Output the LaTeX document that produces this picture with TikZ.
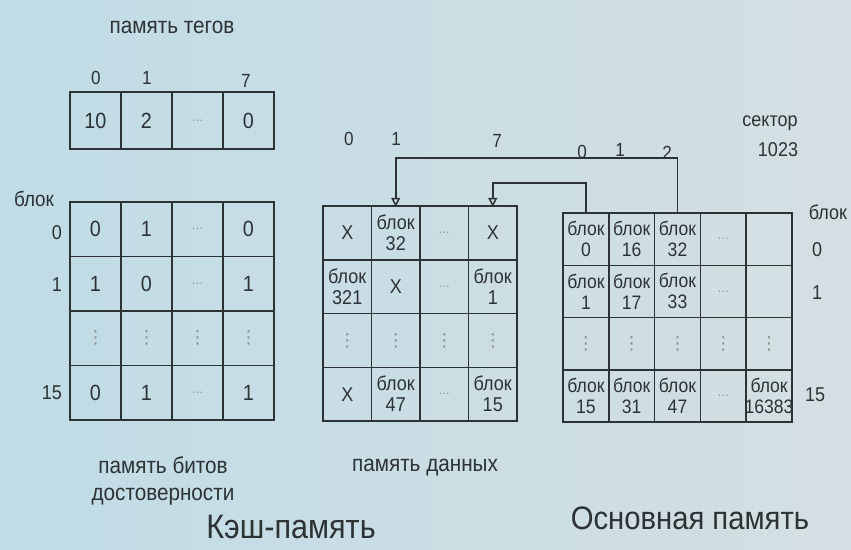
\documentclass[tikz,border=0pt]{standalone}
\usepackage{fontspec}
\setmainfont{Liberation Sans}[FakeStretch=0.9]
\newfontfamily\symbfont{DejaVu Sans}
\usetikzlibrary{arrows.meta}

\definecolor{bgleft}{RGB}{192,220,230}
\definecolor{bgright}{RGB}{212,223,227}
\definecolor{ink}{RGB}{45,50,52}

\newcommand{\celldots}{{\color{ink!55}\fontsize{13}{13}\selectfont\ldots}}
\newcommand{\vdts}{{\color{ink!55}\symbfont\fontsize{18}{18}\selectfont ⋮}}

\begin{document}
\begin{tikzpicture}[x=1pt, y=-1pt,
		gridline/.style = {draw=ink, line width=1.5pt},
		cell/.style  = {rectangle, inner sep=0pt, text=ink, align=center},
		tcell/.style = {cell, minimum width=49, minimum height=55,    font=\fontsize{22}{24}\selectfont},
		vcell/.style = {cell, minimum width=49, minimum height=52.5,  font=\fontsize{22}{24}\selectfont},
		dcell/.style = {cell, minimum width=46.5, minimum height=51.75, font=\fontsize{20}{21}\selectfont},
		mcell/.style = {cell, minimum width=43.8, minimum height=50.25, font=\fontsize{19.5}{21}\selectfont},
		lbl/.style   = {text=ink, inner sep=0pt, font=\fontsize{19}{21}\selectfont},
		captxt/.style = {text=ink, inner sep=0pt, align=center, font=\fontsize{23}{27}\selectfont},
		bigtxt/.style = {text=ink, inner sep=0pt, font=\fontsize{34}{36}\selectfont},
		link/.style  = {draw=ink, line width=1.5pt, -{Triangle[open, width=9pt, length=9pt]}},
		]
		
		\useasboundingbox (0,0) rectangle (851,549);
		\shade[left color=bgleft, right color=bgright] (0,0) rectangle (851,549);
		
		% === === Tag memory === ===
		\node[captxt]	(tagtitle)	at	(172, 27)	{память тегов};
		\node[lbl]	(tagc0)		at	(96, 78)	{0};
		\node[lbl]	(tagc1)		at	(147, 78)	{1};
		\node[lbl]	(tagc7)		at	(246, 81)	{7};
		\foreach \txt [count=\c from 0] in {10,2,\celldots,0}{
			\draw[gridline]	(70+51*\c, 92) rectangle ++(51, 57);
			\node[tcell]	(t\c)	at	(95.5+51*\c, 120.5)		{\txt};
		}
		
		% === === Valid bits === ===
		\node[lbl, font=\fontsize{21}{23}\selectfont]	(vblk)	at	(34, 199)	{блок};
		\node[lbl, anchor=east, font=\fontsize{20}{22}\selectfont]	(vr0)	at	(62, 233)	{0};
		\node[lbl, anchor=east, font=\fontsize{20}{22}\selectfont]	(vr1)	at	(62, 285)	{1};
		\node[lbl, anchor=east, font=\fontsize{20}{22}\selectfont]	(vr15)	at	(62, 393)	{15};
		\foreach \row [count=\r from 0] in {{0,1,\celldots,0},{1,0,\celldots,1},{\vdts,\vdts,\vdts,\vdts},{0,1,\celldots,1}}
			\foreach \txt [count=\c from 0] in \row {
				\draw[gridline]	(70+51*\c, 202+54.5*\r) rectangle ++(51, 54.5);
				\node[vcell]	(v\r\c)	at	(95.5+51*\c, 229.25+54.5*\r)	{\txt};
			}
		\node[captxt]	(validtitle)	at	(163, 481)	{память битов\\достоверности};
		
		% === === Data memory === ===
		\node[lbl]	(dc0)	at	(349, 139)	{0};
		\node[lbl]	(dc1)	at	(396, 139)	{1};
		\node[lbl]	(dc7)	at	(497, 141)	{7};
		\foreach \row [count=\r from 0] in {{X,{блок\\32},\celldots,X},{{блок\\321},X,\celldots,{блок\\1}},{\vdts,\vdts,\vdts,\vdts},{X,{блок\\47},\celldots,{блок\\15}}}
			\foreach \txt [count=\c from 0] in \row {
				\draw[gridline]	(323+48.5*\c, 206+53.75*\r) rectangle ++(48.5, 53.75);
				\node[dcell]	(d\r\c)	at	(347.25+48.5*\c, 232.9+53.75*\r)	{\txt};
			}
		\node[captxt]	(datatitle)	at	(425, 468)	{память данных};
		
		% === === Main memory === ===
		\node[lbl]	(mc0)	at	(582, 152)	{0};
		\node[lbl]	(mc1)	at	(620, 150)	{1};
		\node[lbl]	(mc2)	at	(667, 153)	{2};
		\node[lbl, font=\fontsize{20}{22}\selectfont]	(sect)	at	(770, 123)	{сектор};
		\node[lbl, font=\fontsize{20}{22}\selectfont]	(sectn)	at	(778, 150)	{1023};
		\node[lbl, font=\fontsize{20}{22}\selectfont]	(mblk)	at	(828, 212)	{блок};
		\node[lbl, font=\fontsize{20}{22}\selectfont]	(mr0)	at	(817, 250)	{0};
		\node[lbl, font=\fontsize{20}{22}\selectfont]	(mr1)	at	(817, 293)	{1};
		\node[lbl, font=\fontsize{20}{22}\selectfont]	(mr15)	at	(815, 395)	{15};
		\foreach \row [count=\r from 0] in {{{блок\\0},{блок\\16},{блок\\32},\celldots,{}},{{блок\\1},{блок\\17},{блок\\33},\celldots,{}},{\vdts,\vdts,\vdts,\vdts,\vdts},{{блок\\15},{блок\\31},{блок\\47},\celldots,{блок\\16383}}}
			\foreach \txt [count=\c from 0] in \row {
				\draw[gridline]	(563+45.8*\c, 213+52.25*\r) rectangle ++(45.8, 52.25);
				\node[mcell]	(m\r\c)	at	(585.9+45.8*\c, 239.1+52.25*\r)	{\txt};
			}
		
		% === === Links === ===
		\coordinate	(upper)	at	(0, 158);
		\coordinate	(lower)	at	(0, 183);
		\draw[link]	(m02.north)	--	(m02.north |- upper)	-|	(d01.north);
		\draw[link]	(m00.north)	--	(m00.north |- lower)	-|	(d03.north);
		
		% === === Captions === ===
		\node[bigtxt]	(cache)	at	(291, 527)	{Кэш-память};
		\node[bigtxt, font=\fontsize{32.5}{34}\selectfont]	(mainmem)	at	(690, 518)	{Основная память};
		
	\end{tikzpicture}
\end{document}
